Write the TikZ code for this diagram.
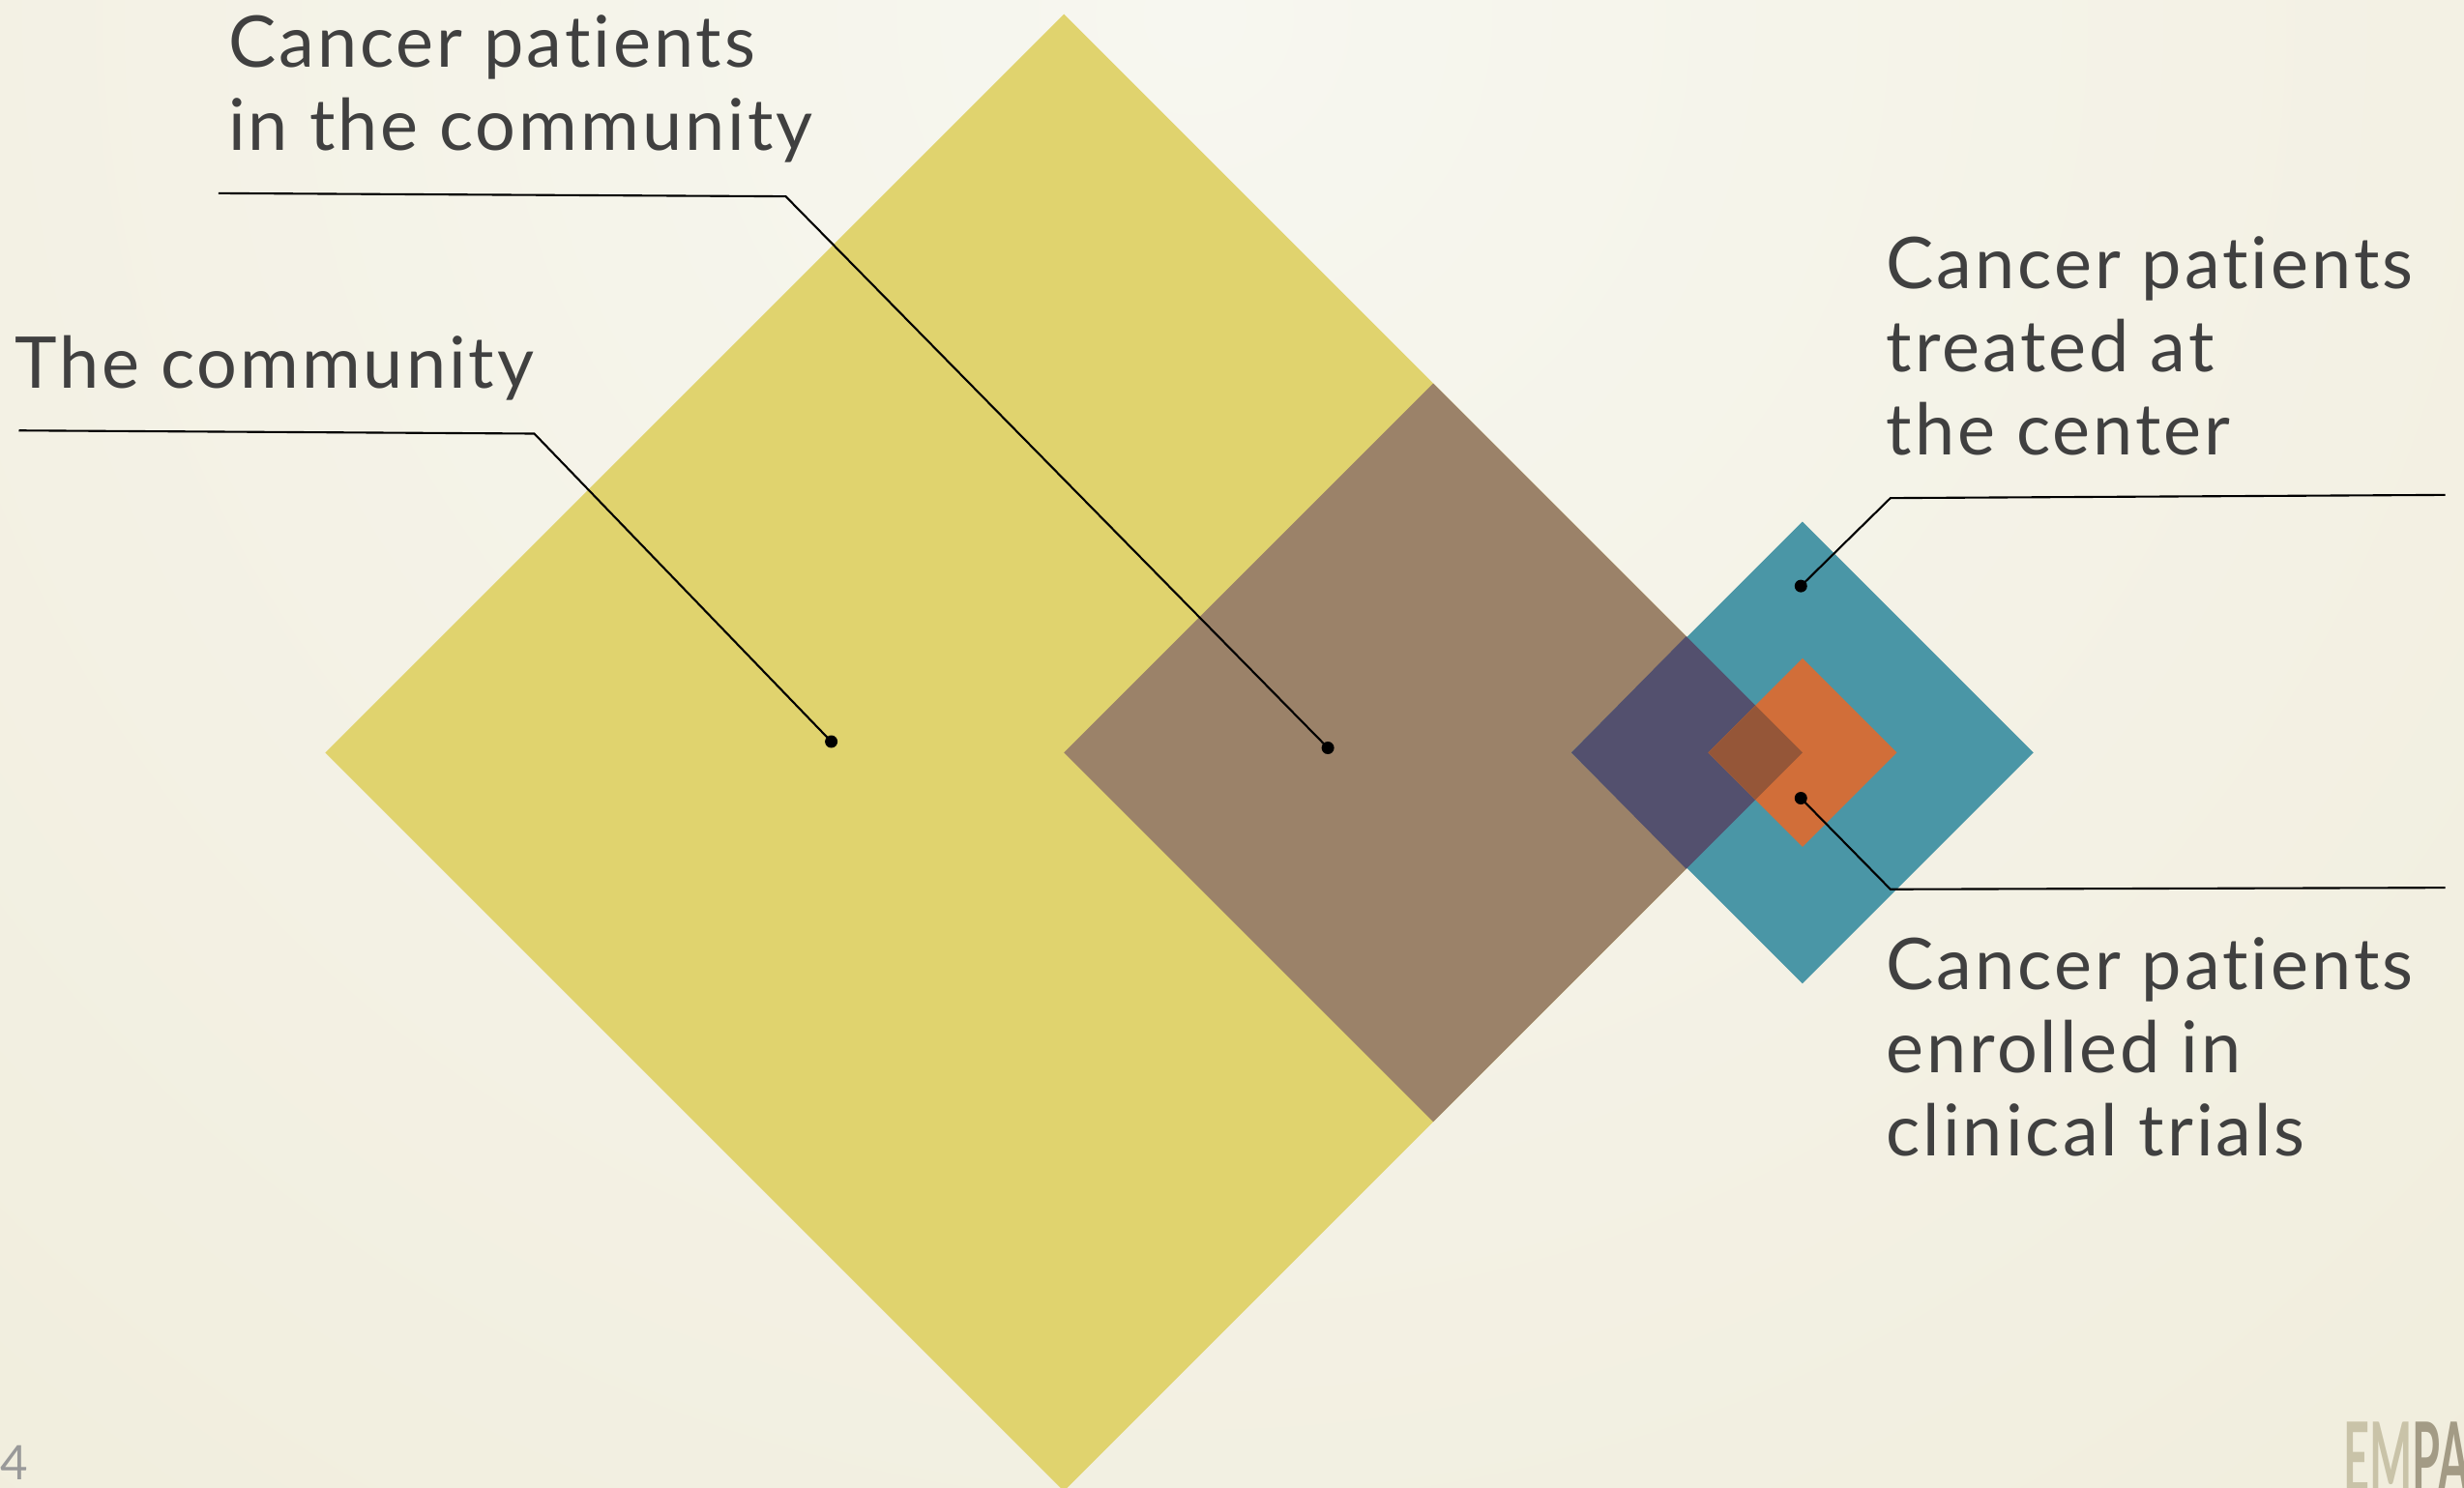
\documentclass[tikz,border=0pt]{standalone}
\usepackage{fontspec}
\setmainfont{Lato}
\newfontfamily\lblfont[LetterSpace=4,Ligatures=NoCommon]{Lato}
\definecolor{bgc}{HTML}{EBE4CB}
\definecolor{glowc}{HTML}{F7F7F0}
\definecolor{yelc}{HTML}{E0D36E}
\definecolor{brnc}{HTML}{9B8269}
\definecolor{tealc}{HTML}{4A96A6}
\definecolor{purc}{HTML}{53506E}
\definecolor{orac}{HTML}{D16E39}
\definecolor{darkc}{HTML}{955638}
\definecolor{txtc}{HTML}{404040}
\definecolor{logoa}{HTML}{C9C3A8}
\definecolor{logob}{HTML}{A39B85}
\tikzset{
  lbl/.style={anchor=north west, inner sep=0pt, align=left, text=txtc,
    font=\lblfont\fontsize{21}{24.5}\selectfont},
  lead/.style={line width=0.6pt, black}
}

\begin{document}
\begin{tikzpicture}
[x=0.01625cm,y=-0.01625cm]
\useasboundingbox (0,0) rectangle (1568,947);
\fill[bgc] (0,0) rectangle (1568,947);
\begin{scope}
\clip (0,0) rectangle (1568,947);
\shade[inner color=glowc, outer color=bgc] (760,10) circle (39cm);
% diamonds
\fill[yelc] (677,9) -- (1147,479) -- (677,949) -- (207,479) -- cycle;
\fill[brnc] (912,244) -- (1147,479) -- (912,714) -- (677,479) -- cycle;
\fill[tealc] (1147,332) -- (1294,479) -- (1147,626) -- (1000,479) -- cycle;
\fill[purc] (1073,405) -- (1147,479) -- (1073,553) -- (1000,479) -- cycle;
\fill[orac] (1147,419) -- (1207,479) -- (1147,539) -- (1087,479) -- cycle;
\fill[darkc] (1117,449) -- (1147,479) -- (1117,509) -- (1087,479) -- cycle;
\node[anchor=south west, inner sep=0pt, text=logob, xscale=0.46,
  font=\fontsize{29}{29}\bfseries\selectfont] (logo) at (1491,951)
  {\textcolor{logoa}{EM}PA};
\end{scope}
% labels
\node[lbl] (tpat) at (145,9) {Cancer patients\\in the community};
\node[lbl] (tcomm) at (9,213) {The community};
\node[lbl] (tcen) at (1200,150) {Cancer patients\\treated at\\the center};
\node[lbl] (ttri) at (1200,596) {Cancer patients\\enrolled in\\clinical trials};
\node[anchor=south west, inner sep=0pt, text=gray!80,
  font=\fontsize{14}{16}\selectfont] (pnum) at (0,942) {4};
% leader lines
\coordinate (scomm) at (12,274);
\coordinate (ecomm) at (340,276);
\coordinate (dcomm) at (529,472);
\coordinate (spat) at (139,123);
\coordinate (epat) at (500,125);
\coordinate (dpat) at (845,476);
\coordinate (scen) at (1556,315);
\coordinate (ecen) at (1203,317);
\coordinate (dcen) at (1146,373);
\coordinate (stri) at (1556,565);
\coordinate (etri) at (1203,566);
\coordinate (dtri) at (1146,508);
\foreach \from/\via/\to in {scomm/ecomm/dcomm,spat/epat/dpat,scen/ecen/dcen,stri/etri/dtri}
{
\draw[lead] (\from) -- (\via) -- (\to);
\fill (\to) circle (0.065cm);
}
\end{tikzpicture}
\end{document}
